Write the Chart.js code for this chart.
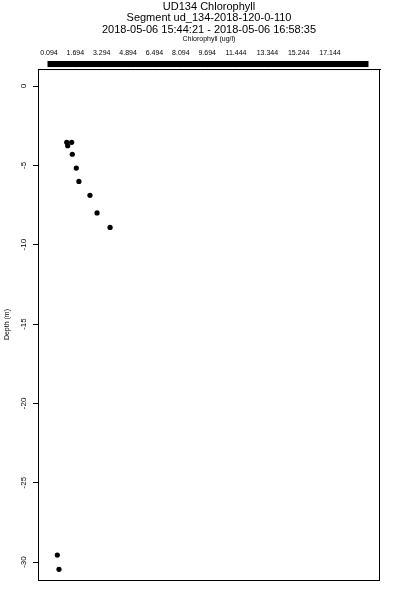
<!DOCTYPE html>
<html>
<head>
<meta charset="utf-8">
<script src="https://cdn.jsdelivr.net/npm/chart.js@4"></script>
<style>
  html, body { margin: 0; padding: 0; background: #fff; }
  #wrap { width: 400px; height: 600px; }
</style>
</head>
<body>
<div id="wrap"><canvas id="chart" width="400" height="600"></canvas></div>
<script>
// chlorophyll (ug/l) and depth (m)
const chlorophyll = [1.17, 1.23, 1.47, 1.51, 1.75, 1.91, 2.58, 3.01, 3.80, 0.60, 0.70];
const depth = [-3.55, -3.76, -3.55, -4.30, -5.17, -6.01, -6.89, -8.00, -8.91, -29.56, -30.46];

// top axis labels
const xTickValues = [0.094, 1.694, 3.294, 4.894, 6.494, 8.094, 9.694, 11.444, 13.344, 15.244, 17.144];
const xTickLabels = ["0.094", "1.694", "3.294", "4.894", "6.494", "8.094", "9.694", "11.444", "13.344", "15.244", "17.144"];
// left axis
const yTickValues = [0, -5, -10, -15, -20, -25, -30];

const titleLines = [
  "UD134 Chlorophyll",
  "Segment ud_134-2018-120-0-110",
  "2018-05-06 15:44:21 - 2018-05-06 16:58:35"
];

const FONT = "'Liberation Sans', Arial, Helvetica, sans-serif";

// the dense tick marks on top axis make the black bar
function topTicks() {
  let vals = [];
  for (let v = 0.14; v <= 19.45; v += 0.05) vals.push(v);
  vals = vals.concat(xTickValues);
  vals.sort((a, b) => a - b);
  return vals.map((v) => ({ value: v }));
}

// box round the plot
const boxPlugin = {
  id: "box",
  afterDraw(chart) {
    const { ctx, chartArea: a } = chart;
    ctx.save();
    ctx.strokeStyle = "#000";
    ctx.lineWidth = 1;
    ctx.strokeRect(a.left + 0.5, a.top + 0.5, a.right - a.left - 1, a.bottom - a.top);
    ctx.restore();
  },
};

const points = chlorophyll.map((c, i) => ({ x: c, y: depth[i] }));

new Chart(document.getElementById("chart"), {
  type: "scatter",
  data: {
    datasets: [
      {
        data: points,
        backgroundColor: "#000",
        borderWidth: 0,
        pointRadius: 2.6,
      },
    ],
  },
  options: {
    responsive: false,
    animation: false,
    layout: { padding: { top: 0, right: 20, bottom: 20, left: 0 } },
    plugins: {
      legend: { display: false },
      tooltip: { enabled: false },
      title: {
        display: true,
        fullSize: false,
        text: titleLines,
        color: "#000",
        font: { family: FONT, size: 11, weight: "normal", lineHeight: 1.05 },
        padding: { top: 1, bottom: 0 },
      },
    },
    scales: {
      x: {
        type: "linear",
        position: "top",
        min: -0.573,
        max: 20.179,
        afterBuildTicks: (scale) => {
          scale.ticks = topTicks();
        },
        ticks: {
          autoSkip: false,
          maxRotation: 0,
          minRotation: 0,
          padding: 4,
          color: "#000",
          font: { family: FONT, size: 7 },
          callback: (value) => {
            const i = xTickValues.findIndex((v) => Math.abs(v - value) < 1e-9);
            return i >= 0 ? xTickLabels[i] : "";
          },
        },
        grid: {
          drawOnChartArea: false,
          tickLength: 8,
          tickColor: "#000",
          tickWidth: 2,
          tickBorderDash: [6, 10],
        },
        border: { display: true, color: "#000", width: 1 },
        title: {
          display: true,
          text: "Chlorophyll (ug/l)",
          color: "#000",
          font: { family: FONT, size: 7, lineHeight: 1 },
          padding: { top: 0, bottom: 2 },
        },
      },
      y: {
        type: "linear",
        position: "left",
        min: -31.134,
        max: 1.071,
        afterBuildTicks: (scale) => {
          scale.ticks = yTickValues.map((v) => ({ value: v }));
        },
        afterFit: (scale) => {
          scale.width = 38;
        },
        ticks: {
          minRotation: 90,
          maxRotation: 90,
          crossAlign: "center",
          padding: 3,
          color: "#000",
          font: { family: FONT, size: 8 },
        },
        grid: {
          drawOnChartArea: false,
          tickLength: 5,
          tickColor: "#000",
        },
        border: { display: true, color: "#000", width: 1 },
        title: {
          display: true,
          text: "Depth (m)",
          color: "#000",
          font: { family: FONT, size: 7, lineHeight: 1 },
          padding: { top: 3.5, bottom: 0 },
        },
      },
    },
  },
  plugins: [boxPlugin],
});
</script>
</body>
</html>
